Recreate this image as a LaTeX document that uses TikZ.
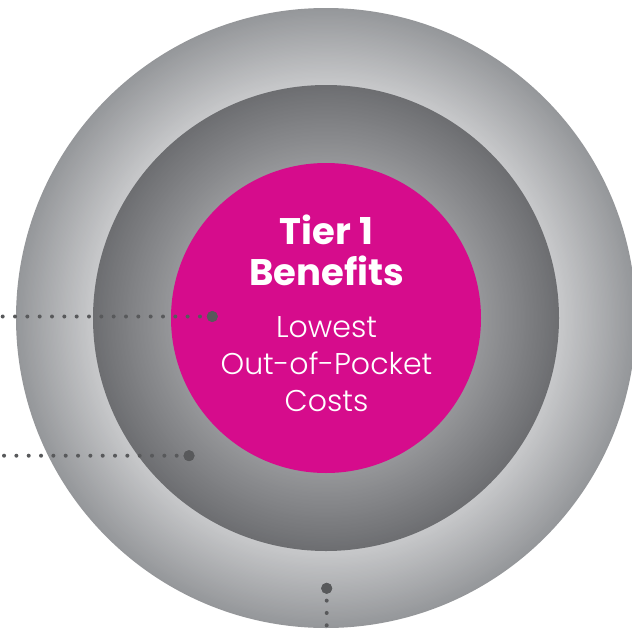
\documentclass[tikz,border=0pt]{standalone}
\usepackage{fontspec}
\setmainfont{Poppins}
\IfFontExistsTF{Poppins Light}{\newfontfamily\bodyfont{Poppins Light}}{\newfontfamily\bodyfont{Poppins}}
\definecolor{tiermagenta}{HTML}{D60C8C}
\definecolor{outerdark}{HTML}{95979A}
\definecolor{outerlight}{HTML}{C8C9CB}
\definecolor{middark}{HTML}{6D6E71}
\definecolor{midlight}{HTML}{96979A}
\definecolor{dotgray}{HTML}{58595B}
\tikzset{
  bigdot/.style={circle, fill=dotgray, inner sep=0pt, minimum size=11pt},
  dotline/.style={dotgray, line width=4pt, line cap=round, dash pattern=on 0pt off 12.33pt},
  titletext/.style={text=white, anchor=base, font=\fontsize{37}{41}\selectfont\bfseries},
  bodytext/.style={text=white, anchor=base, font=\fontsize{30}{36}\selectfont\bodyfont},
}
\begin{document}
\begin{tikzpicture}[x=1pt,y=1pt]
\useasboundingbox (0,0) rectangle (632,-629);
\clip (0,0) rectangle (632,-629);
\coordinate (c) at (326,-318);
% outer ring: dark at outer edge, light at inner edge
\foreach \i in {0,...,60}{
  \pgfmathsetmacro\rr{310-\i*77/60}
  \pgfmathsetmacro\pp{100*\i/60}
  \fill[outerlight!\pp!outerdark] (c) circle (\rr);
}
% middle ring
\foreach \i in {0,...,60}{
  \pgfmathsetmacro\rr{233-\i*78/60}
  \pgfmathsetmacro\pp{100*\i/60}
  \fill[midlight!\pp!middark] (c) circle (\rr);
}
\fill[tiermagenta] (c) circle (155);
\node[titletext] (t1) at (326.5,-244) {Tier 1};
\node[titletext] (t2) at (326.5,-285.5) {Benefits};
\node[bodytext] (b1) at (326.5,-337.5) {Lowest};
\node[bodytext] (b2) at (326.5,-374) {Out-of-Pocket};
\node[bodytext] (b3) at (326.5,-411) {Costs};
% callout dots
\node[bigdot] (d1) at (212.3,-316.5) {};
\node[bigdot] (d2) at (189,-455.7) {};
\node[bigdot] (d3) at (326.7,-588.3) {};
\coordinate (e1) at (1,-316.5);
\coordinate (e2) at (2,-455.7);
\coordinate (e3) at (326.7,-638.3);
\draw[dotline] (d1.center) -- (e1);
\draw[dotline] (d2.center) -- (e2);
\draw[dotline] (d3.center) -- (e3);
\node[bigdot] at (d1) {};
\node[bigdot] at (d2) {};
\node[bigdot] at (d3) {};
\end{tikzpicture}
\end{document}
